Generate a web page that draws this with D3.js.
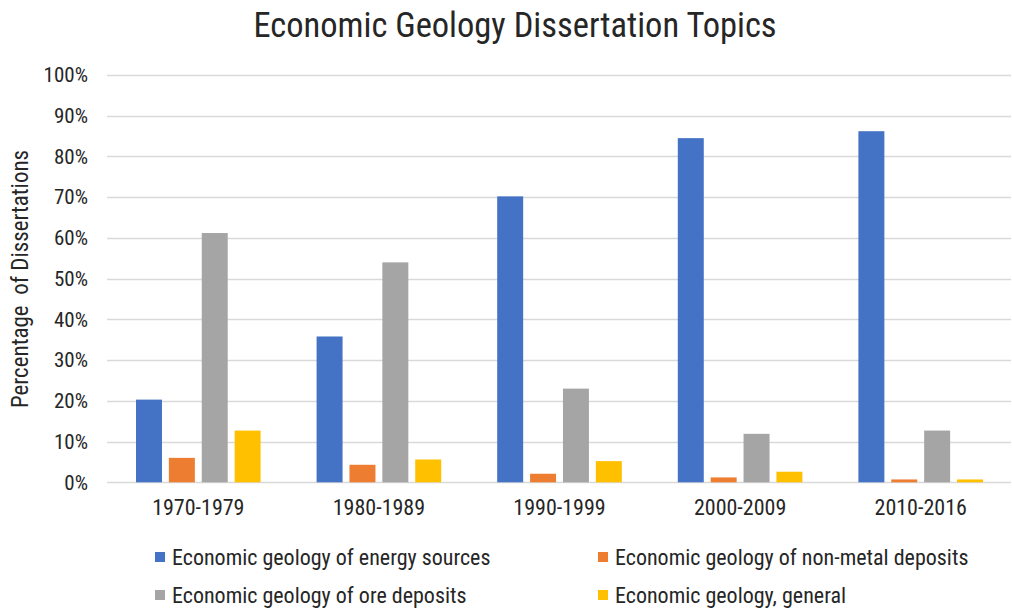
<!DOCTYPE html>
<html>
<head>
<meta charset="utf-8">
<script src="https://cdn.jsdelivr.net/npm/d3@7"></script>
<style>
  html, body { margin: 0; padding: 0; background: #fff; }
  svg text { font-family: "Roboto Condensed", "Liberation Sans Narrow", "DejaVu Sans Condensed", Roboto, sans-serif; fill: #262626; }
</style>
</head>
<body>
<svg id="chart" width="1012" height="609"></svg>
<script>
const categories = ['1970-1979', '1980-1989', '1990-1999', '2000-2009', '2010-2016'];
const seriesNames = [
  'Economic geology of energy sources',
  'Economic geology of non-metal deposits',
  'Economic geology of ore deposits',
  'Economic geology, general'
];
const energy   = [20.3, 35.8, 70.2, 84.5, 86.2];
const nonMetal = [6.0, 4.3, 2.1, 1.2, 0.7];
const ore      = [61.2, 54.0, 23.0, 11.9, 12.7];
const general  = [12.7, 5.6, 5.2, 2.6, 0.7];
const yTicks = [0, 10, 20, 30, 40, 50, 60, 70, 80, 90, 100];

const colors = ['#4472C4', '#ED7D31', '#A5A5A5', '#FFC000'];
const values = [energy, nonMetal, ore, general];

const svg = d3.select('#chart');
const W = 1012, H = 609;
const m = { left: 108, right: 1, top: 75, bottom: 127 };

const x0 = d3.scaleBand().domain(categories).range([m.left, W - m.right]).paddingInner(0.31).paddingOuter(0.155);
const x1 = d3.scaleBand().domain(d3.range(4)).range([0, x0.bandwidth()]).paddingInner(0.21).paddingOuter(0);
const y = d3.scaleLinear().domain([0, 100]).range([H - m.bottom + 0.3, m.top]);

// gridlines
svg.append('g')
  .selectAll('line').data(yTicks).join('line')
  .attr('x1', m.left - 1).attr('x2', W - m.right)
  .attr('y1', d => Math.round(y(d)) + 0.5).attr('y2', d => Math.round(y(d)) + 0.5)
  .attr('stroke', '#D9D9D9').attr('stroke-width', 1.5);

// y axis labels
const yAxis = d3.axisLeft(y).tickValues(yTicks).tickFormat(d => d + '%').tickSize(0).tickPadding(0);
svg.append('g').attr('transform', `translate(${m.left - 20},0)`).call(yAxis)
  .call(g => g.select('.domain').remove())
  .call(g => g.selectAll('text').attr('font-size', 21).attr('fill', '#404040').style('font-family', null));

// bars
const groups = svg.append('g').selectAll('g').data(categories).join('g')
  .attr('transform', d => `translate(${x0(d)},0)`);
groups.selectAll('rect')
  .data((c, i) => values.map((s, k) => ({ k, v: s[i] })))
  .join('rect')
  .attr('x', d => x1(d.k))
  .attr('width', x1.bandwidth())
  .attr('y', d => y(d.v))
  .attr('height', d => y(0) - y(d.v))
  .attr('fill', d => colors[d.k]);

// x axis labels
const xAxis = d3.axisBottom(x0).tickSize(0).tickPadding(0);
svg.append('g').attr('transform', `translate(0,${y(0) + 33})`).call(xAxis)
  .call(g => g.select('.domain').remove())
  .call(g => g.selectAll('text').attr('font-size', 22).attr('fill', '#404040').attr('dy', 0).style('font-family', null));

// title
svg.append('text').attr('x', 515).attr('y', 37).attr('text-anchor', 'middle')
  .attr('font-size', 34.5).attr('fill', '#000').text('Economic Geology Dissertation Topics');

// y title
svg.append('text').attr('transform', 'translate(28,279) rotate(-90)').attr('text-anchor', 'middle')
  .attr('font-size', 23).attr('fill', '#000').style('white-space', 'pre').text('Percentage  of Dissertations');

// legend
const legendPos = [[155, 557], [598, 557], [155, 595], [598, 595]];
const leg = svg.append('g').selectAll('g').data(seriesNames).join('g')
  .attr('transform', (d, i) => `translate(${legendPos[i][0]},${legendPos[i][1]})`);
leg.append('rect').attr('x', 0).attr('y', -5).attr('width', 10).attr('height', 10).attr('fill', (d, i) => colors[i]);
leg.append('text').attr('x', 17).attr('y', 7.5).attr('font-size', 22).attr('fill', '#000').text(d => d);
</script>
</body>
</html>
